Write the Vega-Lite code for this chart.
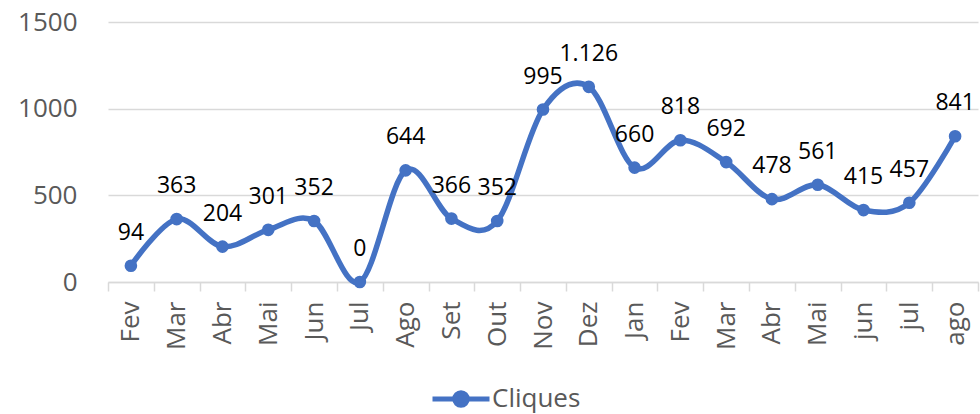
{
  "$schema": "https://vega.github.io/schema/vega-lite/v6.json",
  "autosize": "none",
  "width": 870,
  "height": 260,
  "padding": {"left": 108, "top": 22, "right": 2, "bottom": 132},
  "background": "white",
  "config": {
    "view": {"stroke": null},
    "font": "Open Sans"
  },
  "data": {
    "values": [
      {"m": "Fev|1", "v": 94, "label": "94", "s": "Cliques"},
      {"m": "Mar|1", "v": 363, "label": "363", "s": "Cliques"},
      {"m": "Abr|1", "v": 204, "label": "204", "s": "Cliques"},
      {"m": "Mai|1", "v": 301, "label": "301", "s": "Cliques"},
      {"m": "Jun|1", "v": 352, "label": "352", "s": "Cliques"},
      {"m": "Jul|1", "v": 0, "label": "0", "s": "Cliques"},
      {"m": "Ago|1", "v": 644, "label": "644", "s": "Cliques"},
      {"m": "Set|1", "v": 366, "label": "366", "s": "Cliques"},
      {"m": "Out|1", "v": 352, "label": "352", "s": "Cliques"},
      {"m": "Nov|1", "v": 995, "label": "995", "s": "Cliques"},
      {"m": "Dez|1", "v": 1126, "label": "1.126", "s": "Cliques"},
      {"m": "Jan|2", "v": 660, "label": "660", "s": "Cliques"},
      {"m": "Fev|2", "v": 818, "label": "818", "s": "Cliques"},
      {"m": "Mar|2", "v": 692, "label": "692", "s": "Cliques"},
      {"m": "Abr|2", "v": 478, "label": "478", "s": "Cliques"},
      {"m": "Mai|2", "v": 561, "label": "561", "s": "Cliques"},
      {"m": "jun|2", "v": 415, "label": "415", "s": "Cliques"},
      {"m": "jul|2", "v": 457, "label": "457", "s": "Cliques"},
      {"m": "ago|2", "v": 841, "label": "841", "s": "Cliques"}
    ]
  },
  "encoding": {
    "x": {
      "field": "m",
      "type": "nominal",
      "sort": null,
      "bandPosition": 0.5,
      "scale": {"type": "band", "paddingInner": 0, "paddingOuter": 0},
      "axis": {
        "title": null,
        "labelExpr": "isValid(datum.value) ? split(datum.value, '|')[0] : ''",
        "labelAngle": -90,
        "labelAlign": "right",
        "labelBaseline": "middle",
        "labelFont": "Open Sans",
        "labelFontSize": 26,
        "labelColor": "#595959",
        "labelPadding": 10,
        "tickBand": "extent",
        "tickSize": 9,
        "tickColor": "#d9d9d9",
        "tickWidth": 1.5,
        "domainColor": "#d9d9d9",
        "domainWidth": 1.5,
        "grid": false
      }
    },
    "y": {
      "field": "v",
      "type": "quantitative",
      "scale": {"domain": [0, 1500], "nice": false},
      "axis": {
        "title": null,
        "values": [0, 500, 1000, 1500],
        "format": "d",
        "labelFont": "Open Sans",
        "labelFontSize": 26,
        "labelColor": "#595959",
        "labelPadding": 31,
        "ticks": false,
        "domain": false,
        "grid": true,
        "gridColor": "#d9d9d9",
        "gridWidth": 1.5
      }
    }
  },
  "layer": [
    {
      "mark": {"type": "line", "interpolate": "cardinal", "strokeWidth": 5.5, "clip": false},
      "encoding": {
        "color": {
          "field": "s",
          "type": "nominal",
          "scale": {"range": ["#4472C4"]},
          "legend": {
            "title": null,
            "orient": "none",
            "legendX": 322,
            "legendY": 346,
            "padding": 0,
            "symbolType": "M-1,0H1M-0.22,0A0.22,0.22,0,1,1,0.22,0A0.22,0.22,0,1,1,-0.22,0Z",
            "symbolSize": 3249,
            "symbolStrokeWidth": 5,
            "labelFont": "Open Sans",
            "labelFontSize": 26,
            "labelColor": "#595959",
            "labelOffset": 0,
            "encode": {
              "symbols": {
                "update": {
                  "fill": {"value": "#4472C4"},
                  "stroke": {"value": "#4472C4"},
                  "strokeWidth": {"value": 5}
                }
              }
            }
          }
        }
      }
    },
    {
      "mark": {"type": "point", "filled": true, "size": 160, "opacity": 1, "color": "#4472C4"}
    },
    {
      "mark": {"type": "text", "dy": -33, "baseline": "middle", "align": "center", "font": "Open Sans", "fontSize": 23, "color": "#000000"},
      "encoding": {
        "text": {"field": "label", "type": "nominal"}
      }
    }
  ]
}
